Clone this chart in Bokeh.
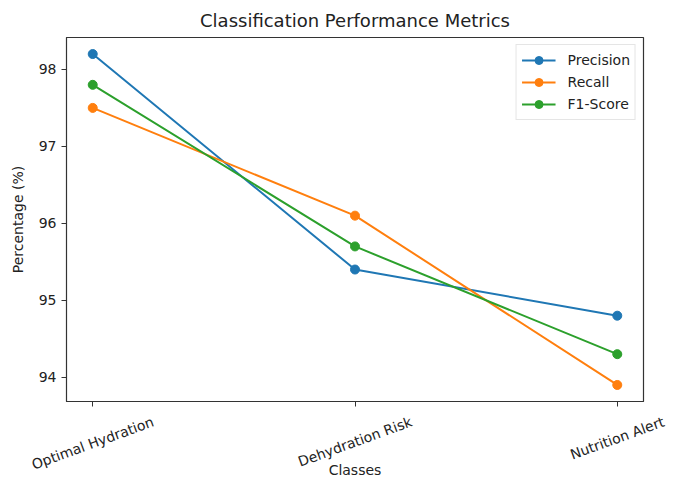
import math
from bokeh.plotting import figure
from bokeh.layouts import column
from bokeh.models import Range1d, FixedTicker, Legend, LegendItem, ColumnDataSource
from bokeh.core.properties import value
from bokeh.embed import file_html
from bokeh.resources import INLINE

classes = ["Optimal Hydration", "Dehydration Risk", "Nutrition Alert"]
precision = [98.2, 95.4, 94.8]
recall = [97.5, 96.1, 93.9]
f1_score = [97.8, 95.7, 94.3]
series_names = ["Precision", "Recall", "F1-Score"]
series_colors = ["#1f77b4", "#ff7f0e", "#2ca02c"]
y_ticks = [94, 95, 96, 97, 98]

FONT = "DejaVu Sans"
TICK_PX = 14
W = 661
W_LAB = 669
BL, BR = 66, 18
H_MAIN, H_LAB = 410, 67

xs = list(range(len(classes)))
all_vals = precision + recall + f1_score
lo, hi = min(all_vals), max(all_vals)
pad = (hi - lo) * 0.05
x_range = Range1d(-0.1, len(classes) - 1 + 0.1)

p = figure(width=W, height=H_MAIN, output_backend="svg", toolbar_location=None,
           x_range=x_range, y_range=Range1d(lo - pad, hi + pad),
           min_border_left=BL, min_border_right=BR, min_border_top=37, min_border_bottom=8)
p.frame_align = False

p.title.text = "Classification Performance Metrics"
p.title.align = "center"
p.title.text_font = FONT
p.title.text_font_size = "18px"
p.title.text_font_style = "normal"
p.title.text_color = "#222222"
p.title.standoff = 13

p.xgrid.visible = False
p.ygrid.visible = False
p.outline_line_color = "#333333"
p.outline_line_width = 1.2

p.yaxis.ticker = FixedTicker(ticks=y_ticks)
p.yaxis.axis_label = "Percentage (%)"
p.yaxis.axis_label_text_font = FONT
p.yaxis.axis_label_text_font_size = "14px"
p.yaxis.axis_label_text_font_style = "normal"
p.yaxis.major_label_text_font = FONT
p.yaxis.major_label_text_font_size = f"{TICK_PX}px"
p.yaxis.minor_tick_line_color = None
p.yaxis.major_tick_in = 0
p.yaxis.major_tick_out = 5
p.yaxis.major_label_standoff = 5
p.yaxis.axis_label_standoff = 10

p.xaxis.ticker = FixedTicker(ticks=xs)
p.xaxis.major_label_overrides = {i: " " for i in xs}
p.xaxis.major_label_text_font_size = "1px"
p.xaxis.major_label_standoff = 0
p.xaxis.minor_tick_line_color = None
p.xaxis.major_tick_in = 0
p.xaxis.major_tick_out = 5

for ax in (p.xaxis[0], p.yaxis[0]):
    ax.axis_line_color = "#333333"
    ax.major_tick_line_color = "#333333"
    ax.major_label_text_color = "#222222"
    ax.axis_label_text_color = "#222222"

items = []
for name, vals, col in zip(series_names, [precision, recall, f1_score], series_colors):
    r1 = p.line(xs, vals, line_color=col, line_width=2)
    r2 = p.scatter(xs, vals, size=9, fill_color=col, line_color=col)
    items.append(LegendItem(label=name, renderers=[r1, r2]))

legend = Legend(items=items, location="top_right")
legend.label_text_font = FONT
legend.label_text_font_size = "14px"
legend.label_text_color = "#222222"
legend.border_line_color = "#cccccc"
legend.background_fill_alpha = 0.8
legend.glyph_width = 34
legend.glyph_height = 20
legend.label_height = 20
legend.spacing = 2
legend.padding = 5
legend.margin = 7
legend.label_standoff = 12
p.add_layout(legend)

# --- strip below the frame carrying the rotated class labels (matplotlib style, centred) ---
EM = {"O": .787, "p": .635, "t": .392, "i": .278, "m": .974, "a": .613, "l": .278, " ": .318,
      "H": .752, "y": .592, "d": .635, "r": .411, "o": .612, "n": .634, "D": .770, "e": .615,
      "h": .634, "R": .695, "s": .521, "k": .579, "N": .748, "u": .634, "A": .684}
ang = math.radians(20)
lab_y = []
for name in classes:
    L = sum(EM.get(c, 0.6) for c in name) * TICK_PX
    bbox_h = L * math.sin(ang) + TICK_PX * math.cos(ang)
    lab_y.append(H_LAB - (4 + bbox_h / 2))

# same horizontal mapping as the main frame, but spanning the full strip width (no clipping)
px_per_unit = (W - BL - BR) / (x_range.end - x_range.start)
q_range = Range1d(x_range.start - BL / px_per_unit,
                  x_range.end + (W_LAB - W + BR) / px_per_unit)

q = figure(width=W_LAB, height=H_LAB, output_backend="svg", toolbar_location=None,
           x_range=q_range, y_range=Range1d(0, H_LAB),
           min_border_left=0, min_border_right=0, min_border_top=0, min_border_bottom=0)
q.frame_align = False
q.axis.visible = False
q.grid.visible = False
q.outline_line_color = None

src = ColumnDataSource(dict(x=xs, y=lab_y, text=classes))
q.text(x="x", y="y", text="text", source=src, angle=20, angle_units="deg",
       text_align="center", text_baseline="middle", text_font=value(FONT),
       text_font_size=f"{TICK_PX}px", text_color="#222222")
mid = (x_range.start + x_range.end) / 2
q.text(x=[mid], y=[7.5], text=["Classes"], text_align="center", text_baseline="middle",
       text_font=value(FONT), text_font_size="14px", text_color="#222222")

layout = column(p, q, spacing=0)
open("out.html", "w").write(file_html(layout, INLINE))
